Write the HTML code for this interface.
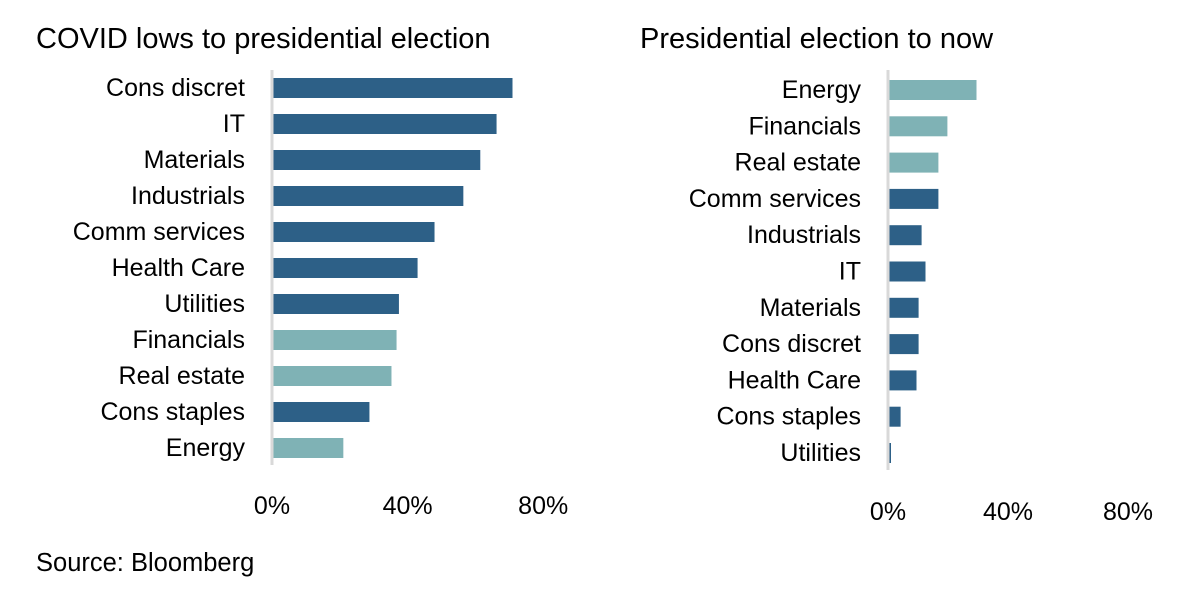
<!DOCTYPE html>
<html><head><meta charset="utf-8"><style>
body{margin:0;background:#fff;width:1192px;height:594px;overflow:hidden;font-family:"Liberation Sans",Calibri,sans-serif}
</style></head><body>
<svg id="c" width="1192" height="594" xmlns="http://www.w3.org/2000/svg" font-family="Liberation Sans, sans-serif">
<text x="36" y="48" font-size="29" fill="#000">COVID lows to presidential election</text>
<text x="640" y="48" font-size="29" fill="#000">Presidential election to now</text>
<text x="36" y="571" font-size="25.5" fill="#000">Source: Bloomberg</text>
</svg>
<script>
const leftCats=["Cons discret","IT","Materials","Industrials","Comm services","Health Care","Utilities","Financials","Real estate","Cons staples","Energy"];
const leftVals=[70.5,65.8,61,56,47.5,42.5,37,36.3,34.8,28.3,20.6];
const leftLight=[0,0,0,0,0,0,0,1,1,0,1];
const rightCats=["Energy","Financials","Real estate","Comm services","Industrials","IT","Materials","Cons discret","Health Care","Cons staples","Utilities"];
const rightVals=[29,19.3,16.3,16.3,10.7,12,9.7,9.7,9,3.7,0.4];
const rightLight=[1,1,1,0,0,0,0,0,0,0,0];
const ticks=[0,40,80];
const tickLabels=["0%","40%","80%"];
const svg=document.getElementById('c');
const NS="http://www.w3.org/2000/svg";
function mk(t,a){const e=document.createElementNS(NS,t);for(const k in a)e.setAttribute(k,a[k]);svg.appendChild(e);return e;}
function panel(cats,vals,light,x0,scale,y0,step,axTop,axBot,tickY,side){
  const ax=mk('line',{x1:x0,x2:x0,y1:axTop,y2:axBot,stroke:'#d9d9d9','stroke-width':3});
  
  
  cats.forEach((c,i)=>{
    const cy=y0+i*step;
    const w=Math.max(vals[i]*scale,1.5);
    const r=mk('rect',{x:x0+1.5,y:cy-10,width:w,height:20,fill:light[i]?'#7fb2b5':'#2d6087'});
    
    
    const t=mk('text',{x:x0-27,y:cy+8,'font-size':25,'text-anchor':'end',fill:'#000'});
    t.textContent=c;
    
    
  });
  ticks.forEach((v,i)=>{
    const t=mk('text',{x:x0+v*scale,y:tickY,'font-size':25,'text-anchor':'middle',fill:'#000'});
    t.textContent=tickLabels[i];
    
    
  });
}
panel(leftCats,leftVals,leftLight,272,3.39,88,36,70,465,514,'left');
panel(rightCats,rightVals,rightLight,888,3.0,90,36.3,70,470,520,'right');
</script>
</body></html>
